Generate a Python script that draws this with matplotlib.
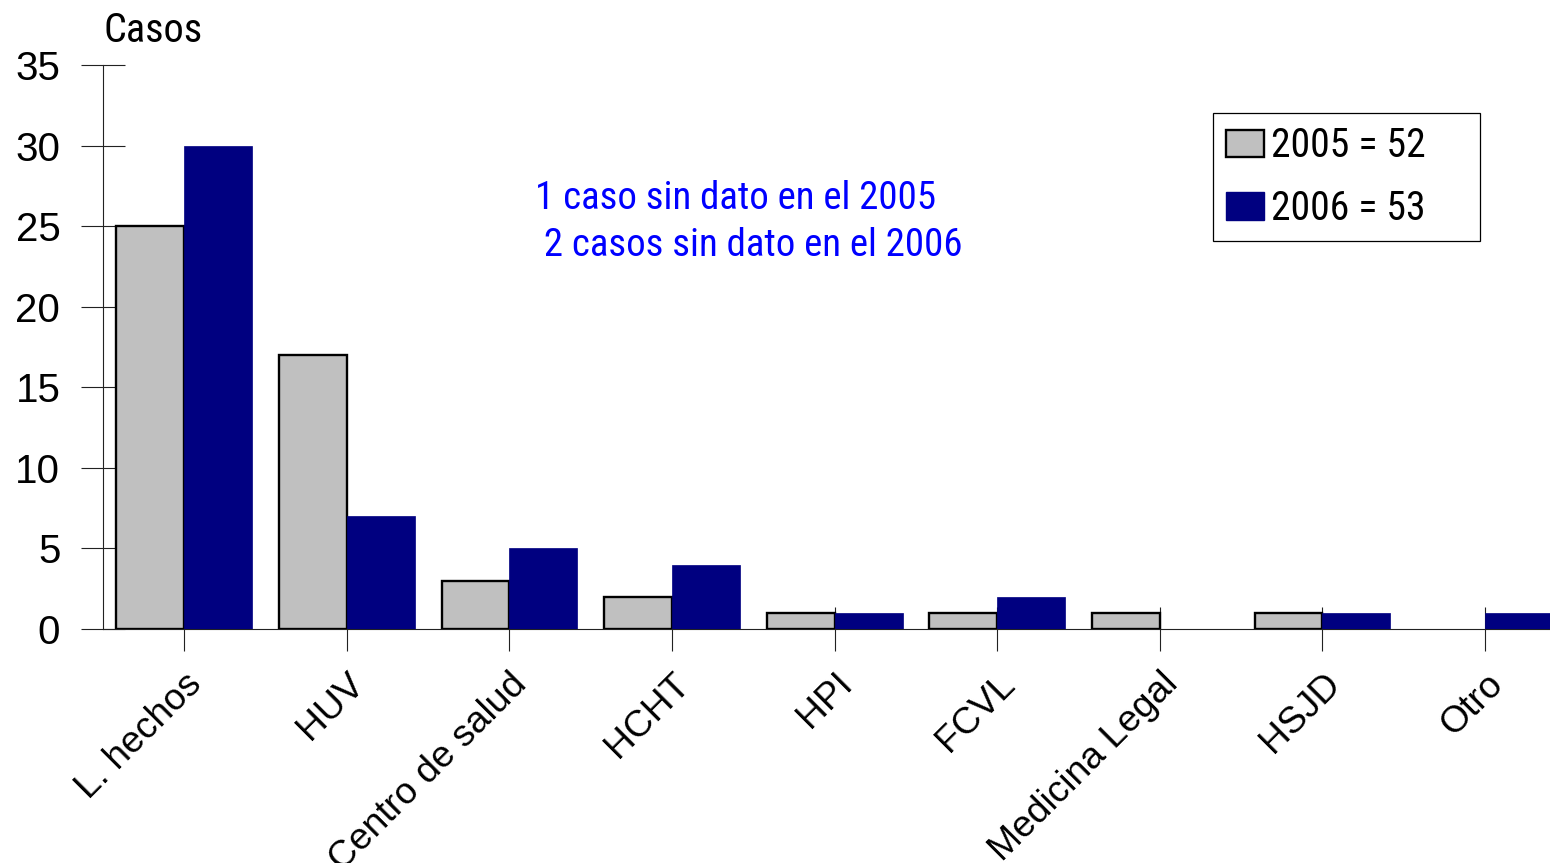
import matplotlib
matplotlib.use('Agg')
import matplotlib.pyplot as plt
from matplotlib.patches import Patch
from matplotlib.transforms import ScaledTranslation
import numpy as np

categories = ['L. hechos', 'HUV', 'Centro de salud', 'HCHT', 'HPI', 'FCVL',
              'Medicina Legal', 'HSJD', 'Otro']
casos_2005 = [25, 17, 3, 2, 1, 1, 1, 1, 0]
casos_2006 = [30, 7, 5, 4, 1, 2, 0, 1, 1]
legend_labels = ['2005 = 52', '2006 = 53']
note = '1 caso sin dato en el 2005\n 2 casos sin dato en el 2006'
yticks = [0, 5, 10, 15, 20, 25, 30, 35]

GRAY = '#C0C0C0'
NAVY = '#000080'
NARROW = ['Roboto Condensed', 'Liberation Sans', 'DejaVu Sans']
plt.rcParams['font.family'] = ['Liberation Sans', 'DejaVu Sans']

W, H = 1550, 863
fig = plt.figure(figsize=(W / 100, H / 100), dpi=100)
ax = fig.add_axes([103 / W, (H - 629) / H, 1 - 103 / W, 564 / H])

x = np.arange(len(categories))
bw = 0.418
v05 = np.array(casos_2005)
v06 = np.array(casos_2006)
m05 = v05 > 0
m06 = v06 > 0
ax.bar(x[m05] - bw, v05[m05], width=bw, align='edge', color=GRAY,
       edgecolor='black', linewidth=1.7, zorder=3)
ax.bar(x[m06], v06[m06], width=bw, align='edge', color=NAVY,
       edgecolor=NAVY, linewidth=0.5, zorder=3)

ax.set_xlim(-0.5, (W - 103) / 162.6 - 0.5)
ax.set_ylim(0, 35)
ax.set_yticks(yticks)
ax.set_xticks(x)
ax.set_xticklabels(categories, rotation=45, ha='right', va='top',
                   rotation_mode='anchor', fontsize=26.8)
off = ScaledTranslation(-0.01, 0, fig.dpi_scale_trans)
for lab in ax.get_xticklabels():
    lab.set_transform(lab.get_transform() + off)

ax.tick_params(axis='y', direction='inout', length=31.5, width=0.8,
               pad=15, labelsize=29, color='#222222')
ax.tick_params(axis='x', direction='inout', length=31, width=0.8,
               pad=11.5, color='#222222')
for s in ['top', 'right']:
    ax.spines[s].set_visible(False)
for s in ['left', 'bottom']:
    ax.spines[s].set_linewidth(0.8)
    ax.spines[s].set_color('#222222')

fig.text(103 / W, 1 - 31 / H, 'Casos', family=NARROW, fontsize=29,
         ha='left', va='center')
fig.text(535 / W, 1 - 222 / H, note, family=NARROW, fontsize=28,
         color='#0000FF', ha='left', va='center', linespacing=1.32)

handles = [Patch(facecolor=GRAY, edgecolor='black', linewidth=1.7),
           Patch(facecolor=NAVY, edgecolor=NAVY)]
leg = ax.legend(handles, legend_labels, loc='upper left',
                bbox_to_anchor=(1213 / W, 1 - 239 / H, 267 / W, 126 / H),
                bbox_transform=fig.transFigure, mode='expand',
                borderaxespad=0, prop={'family': NARROW, 'size': 28.5},
                handlelength=0.96, handleheight=0.68, handletextpad=0.17,
                labelspacing=0.6, borderpad=0.33, fancybox=False,
                framealpha=1, edgecolor='black')
leg.get_frame().set_linewidth(0.9)

fig.savefig('out.png', dpi=100)
